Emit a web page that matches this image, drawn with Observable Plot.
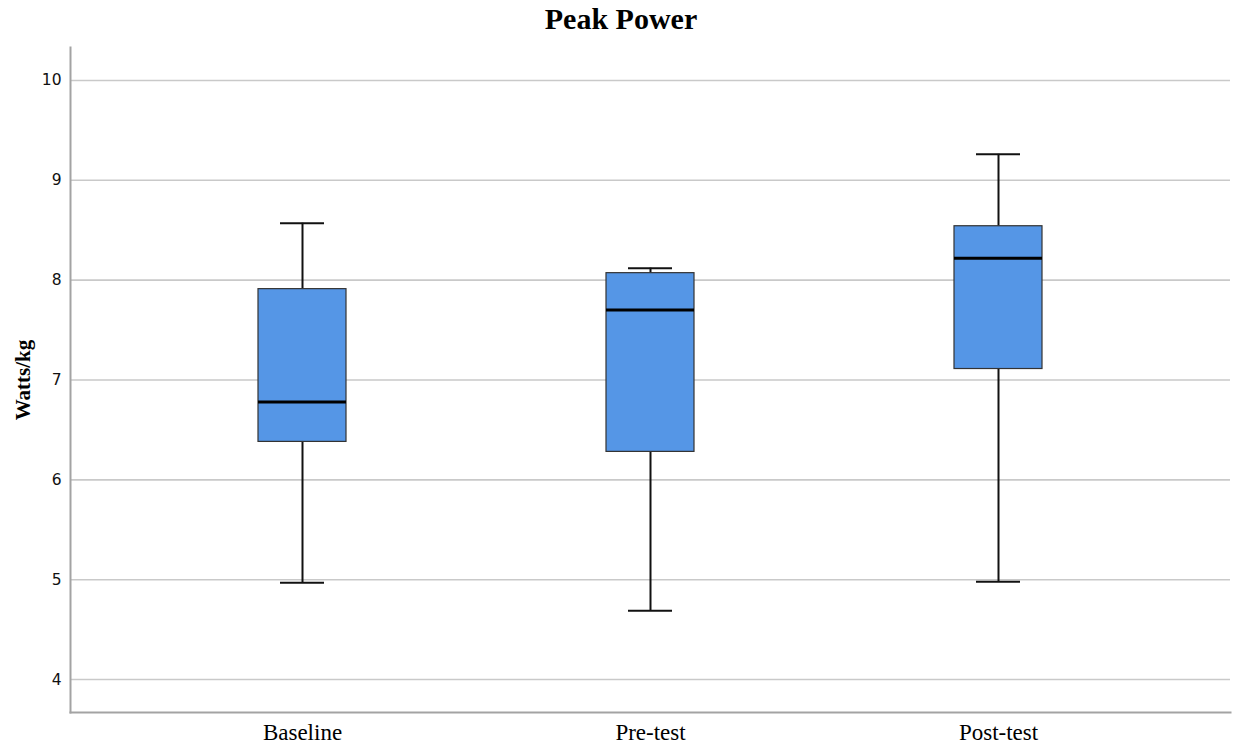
<!DOCTYPE html>
<html>
<head>
<meta charset="utf-8">
<script src="https://cdn.jsdelivr.net/npm/d3@7"></script>
<script src="https://cdn.jsdelivr.net/npm/@observablehq/plot@0.6"></script>
<style>
  body { margin: 0; background: #fff; }
  #title { height: 38px; line-height: 38px; text-align: center; padding-left: 9px;
           font-family: "Liberation Serif", "Times New Roman", serif; font-weight: bold; font-size: 30px; color: #000; }
</style>
</head>
<body>
<div id="title">Peak Power</div>
<div id="chart"></div>
<script>
const categories = ["Baseline", "Pre-test", "Post-test"];
const whiskerLow = [4.97, 4.69, 4.98];
const q1 = [6.38, 6.28, 7.11];
const median = [6.78, 7.70, 8.22];
const q3 = [7.91, 8.07, 8.54];
const whiskerHigh = [8.57, 8.12, 9.26];
const yTicks = [4, 5, 6, 7, 8, 9, 10];

const rows = categories.map((c, i) => ({
  cat: c, lo: whiskerLow[i], q1: q1[i], med: median[i], q3: q3[i], hi: whiskerHigh[i]
}));

const plot = Plot.plot({
  width: 1233,
  height: 707,
  marginTop: 9,
  marginBottom: 33,
  marginLeft: 70,
  marginRight: 3,
  x: { domain: categories, paddingInner: 0.7475, paddingOuter: 0.538, label: null },
  y: { domain: [3.67, 10.33], label: null },
  marks: [
    Plot.ruleY(yTicks, { stroke: "#c9c9c9", strokeWidth: 1.6 }),
    Plot.frame({ anchor: "left", stroke: "#a3a3a3", strokeWidth: 2 }),
    Plot.frame({ anchor: "bottom", stroke: "#a3a3a3", strokeWidth: 2 }),
    Plot.axisY(yTicks, { tickSize: 0, tickPadding: 9, tickFormat: d3.format("d"), fontSize: 15.5, fontFamily: "DejaVu Sans", fill: "#111", label: null }),
    Plot.axisX({ tickSize: 0, tickPadding: 11, fontSize: 23, fontFamily: "Liberation Serif", fill: "#000", label: null }),
    Plot.text(["Watts/kg"], { frameAnchor: "left", textAnchor: "middle", dx: -47, rotate: -90, fontSize: 21, fontWeight: "bold", fontFamily: "Liberation Serif", fill: "#000" }),
    Plot.ruleX(rows, { x: "cat", y1: "q3", y2: "hi", stroke: "#111", strokeWidth: 2 }),
    Plot.ruleX(rows, { x: "cat", y1: "lo", y2: "q1", stroke: "#111", strokeWidth: 2 }),
    Plot.tickY(rows, { x: "cat", y: "hi", stroke: "#111", strokeWidth: 2, insetLeft: 22, insetRight: 22 }),
    Plot.tickY(rows, { x: "cat", y: "lo", stroke: "#111", strokeWidth: 2, insetLeft: 22, insetRight: 22 }),
    Plot.barY(rows, { x: "cat", y1: "q1", y2: "q3", fill: "#5596e6", stroke: "#333", strokeWidth: 1.2 }),
    Plot.tickY(rows, { x: "cat", y: "med", stroke: "#000", strokeWidth: 3 })
  ]
});
document.getElementById("chart").appendChild(plot);
</script>
</body>
</html>
